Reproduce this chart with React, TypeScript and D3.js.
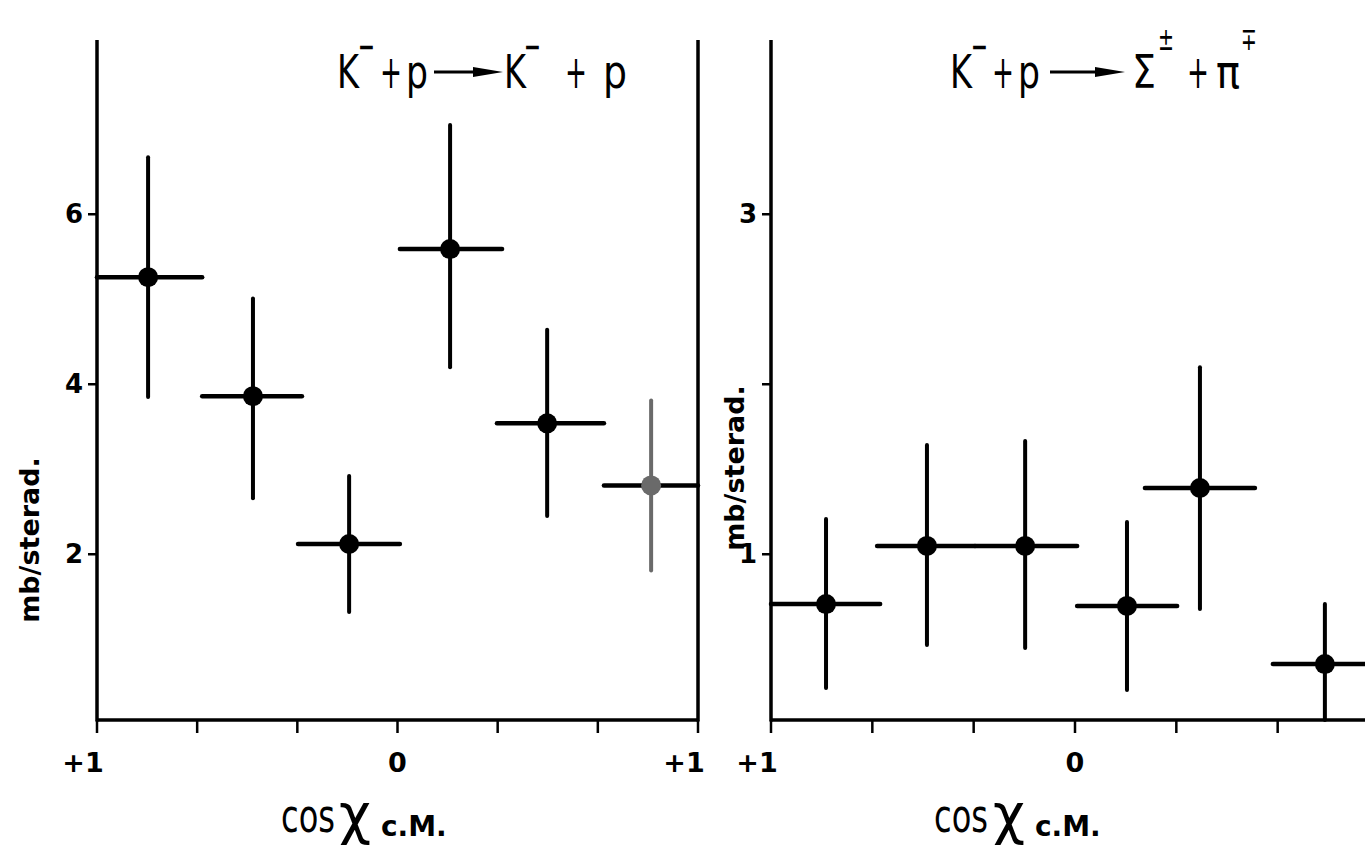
import React from "react";
import * as d3 from "d3";

// ---------- data ----------
// Left panel: K- + p -> K- + p
const leftCenters = [0.83, 0.481, 0.161, -0.175, -0.498, -0.844];
const leftValues = [5.26, 3.86, 2.12, 5.59, 3.54, 2.81];
const leftErrHi = [6.67, 5.01, 2.92, 7.05, 4.64, 3.81];
const leftErrLo = [3.85, 2.66, 1.32, 4.2, 2.45, 1.81];
const leftBinStart = [1, 0.65, 0.331, -0.008, -0.331, -0.687];
const leftBinEnd = [0.65, 0.318, -0.008, -0.348, -0.687, -1];
const leftFaded = [false, false, false, false, false, true];

// Right panel: K- + p -> Sigma± + pi∓
const rightCenters = [0.819, 0.487, 0.164, -0.171, -0.411, -0.822];
const rightValues = [0.707, 1.049, 1.049, 0.696, 1.39, 0.354];
const rightErrHi = [1.207, 1.643, 1.666, 1.19, 2.1, 0.707];
const rightErrLo = [0.213, 0.466, 0.449, 0.201, 0.678, 0.025];
const rightBinStart = [1, 0.651, 0.329, -0.007, -0.23, -0.651];
const rightBinEnd = [0.641, 0.329, -0.007, -0.336, -0.592, -0.954];

const leftYTicks = [2, 4, 6];
const leftYTickLabels = ["2", "4", "6"];
const rightYTicks = [1, 2, 3];
const rightYTickLabels = ["1", "", "3"];
const leftXTicks = [1, 2 / 3, 1 / 3, 0, -1 / 3, -2 / 3, -1];
const leftXTickLabels = ["+1", "", "", "0", "", "", "+1"];
const rightXTicks = [1, 2 / 3, 1 / 3, 0, -1 / 3, -2 / 3];
const rightXTickLabels = ["+1", "", "", "0", "", ""];

const yLabel = "mb/sterad.";

const FONT = "'DejaVu Sans', 'Liberation Sans', sans-serif";

type Panel = {
  x: d3.ScaleLinear<number, number>;
  y: d3.ScaleLinear<number, number>;
  centers: number[];
  values: number[];
  hi: number[];
  lo: number[];
  bs: number[];
  be: number[];
  faded?: boolean[];
  yTicks: number[];
  yTickLabels: string[];
  xTicks: number[];
  xTickLabels: string[];
  xAxisEnd: number;
  rightBorder: boolean;
};

function PanelG({ p }: { p: Panel }) {
  const [y0, y1] = p.y.domain();
  const xL = p.x(1);
  const yB = p.y(y0);
  const yT = p.y(y1);
  return (
    <g>
      {/* axes */}
      <line x1={xL} x2={xL} y1={yT} y2={yB + 1.5} stroke="#000" strokeWidth={3.5} />
      <line x1={xL} x2={p.xAxisEnd} y1={yB} y2={yB} stroke="#000" strokeWidth={3.5} />
      {p.rightBorder && (
        <line x1={p.x(-1)} x2={p.x(-1)} y1={yT} y2={yB + 1.5} stroke="#000" strokeWidth={3.5} />
      )}
      {p.yTicks.map((t, i) => (
        <g key={"yt" + i}>
          <line x1={xL - 9} x2={xL} y1={p.y(t)} y2={p.y(t)} stroke="#000" strokeWidth={2.5} />
          <text
            x={xL - 14}
            y={p.y(t)}
            dy="0.35em"
            textAnchor="end"
            fontFamily={FONT}
            fontWeight="bold"
            fontSize={26}
          >
            {p.yTickLabels[i]}
          </text>
        </g>
      ))}
      {p.xTicks.map((t, i) => (
        <g key={"xt" + i}>
          <line x1={p.x(t)} x2={p.x(t)} y1={yB} y2={yB + 13} stroke="#000" strokeWidth={2.5} />
          {p.xTickLabels[i] && (
            <text
              x={p.x(t) + (p.xTickLabels[i].startsWith("+") ? -14 : 0)}
              y={yB + 52}
              textAnchor="middle"
              fontFamily={FONT}
              fontWeight="bold"
              fontSize={27}
            >
              {p.xTickLabels[i]}
            </text>
          )}
        </g>
      ))}
      {/* data */}
      {p.values.map((v, i) => {
        const col = p.faded && p.faded[i] ? "#6a6a6a" : "#000";
        return (
          <g key={"d" + i}>
            <line
              x1={p.x(p.bs[i])}
              x2={p.x(p.be[i])}
              y1={p.y(v)}
              y2={p.y(v)}
              stroke="#000"
              strokeWidth={4.5}
              strokeLinecap="round"
            />
            <line
              x1={p.x(p.centers[i])}
              x2={p.x(p.centers[i])}
              y1={p.y(p.hi[i])}
              y2={p.y(p.lo[i])}
              stroke={col}
              strokeWidth={4}
              strokeLinecap="round"
            />
            <circle cx={p.x(p.centers[i])} cy={p.y(v)} r={10} fill={col} />
          </g>
        );
      })}
    </g>
  );
}

function Arrow({ x1, x2, y }: { x1: number; x2: number; y: number }) {
  return (
    <g>
      <line x1={x1} x2={x2 - 20} y1={y} y2={y} stroke="#000" strokeWidth={3} />
      <path d={`M${x2 - 30},${y - 5} L${x2},${y} L${x2 - 30},${y + 5} Z`} fill="#000" />
    </g>
  );
}

function T({ x, y, w, size = 46, weight = 400, children }: any) {
  return (
    <text
      x={x}
      y={y}
      fontFamily={FONT}
      fontSize={size}
      fontWeight={weight}
      textLength={w}
      lengthAdjust="spacingAndGlyphs"
      fill="#000"
    >
      {children}
    </text>
  );
}

export default function App() {
  const leftX = d3.scaleLinear().domain([1, -1]).range([97, 698]);
  const leftY = d3.scaleLinear().domain([0.05, 8.05]).range([720, 40]);
  const rightX = d3.scaleLinear().domain([1, -1]).range([771, 1379]);
  const rightY = d3.scaleLinear().domain([0.025, 4.025]).range([720, 40]);

  const left: Panel = {
    x: leftX,
    y: leftY,
    centers: leftCenters,
    values: leftValues,
    hi: leftErrHi,
    lo: leftErrLo,
    bs: leftBinStart,
    be: leftBinEnd,
    faded: leftFaded,
    yTicks: leftYTicks,
    yTickLabels: leftYTickLabels,
    xTicks: leftXTicks,
    xTickLabels: leftXTickLabels,
    xAxisEnd: 698,
    rightBorder: true,
  };
  const right: Panel = {
    x: rightX,
    y: rightY,
    centers: rightCenters,
    values: rightValues,
    hi: rightErrHi,
    lo: rightErrLo,
    bs: rightBinStart,
    be: rightBinEnd,
    yTicks: rightYTicks,
    yTickLabels: rightYTickLabels,
    xTicks: rightXTicks,
    xTickLabels: rightXTickLabels,
    xAxisEnd: 1365,
    rightBorder: false,
  };

  const base = 88;
  return (
    <svg
      width={1365}
      height={853}
      style={{ position: "absolute", left: 0, top: 0, background: "#fff" }}
    >
      <rect width={1365} height={853} fill="#fff" />
      <PanelG p={left} />
      <PanelG p={right} />

      {/* left title: K- + p -> K- + p */}
      <T x={337} y={base} w={22}>K</T>
      <T x={358} y={base - 28} w={17} size={40}>−</T>
      <T x={380} y={base} w={22}>+</T>
      <T x={406} y={base} w={22}>p</T>
      <Arrow x1={434} x2={503} y={72} />
      <T x={504} y={base} w={22}>K</T>
      <T x={524} y={base - 28} w={17} size={40}>−</T>
      <T x={565} y={base} w={22}>+</T>
      <T x={603} y={base} w={24}>p</T>

      {/* right title: K- + p -> Sigma± + pi∓ */}
      <T x={950} y={base} w={22}>K</T>
      <T x={971} y={base - 28} w={17} size={40}>−</T>
      <T x={992} y={base} w={22}>+</T>
      <T x={1018} y={base} w={22}>p</T>
      <Arrow x1={1050} x2={1125} y={72} />
      <T x={1132} y={base} w={24}>Σ</T>
      <T x={1158} y={base - 38} w={16} size={32}>±</T>
      <T x={1187} y={base} w={22}>+</T>
      <T x={1216} y={base} w={24}>π</T>
      <T x={1241} y={base - 38} w={16} size={32}>∓</T>

      {/* x axis labels */}
      {[
        { x: 281, cx: 339 },
        { x: 934, cx: 993 },
      ].map((a, i) => (
        <g key={"xl" + i}>
          <T x={a.x} y={832} w={54} size={46}>cos</T>
          <T x={a.cx} y={833} w={32} size={56}>χ</T>
          <text
            x={a.cx + 42}
            y={836}
            fontFamily={FONT}
            fontSize={28}
            fontWeight="bold"
          >
            c.M.
          </text>
        </g>
      ))}

      {/* y axis labels */}
      <text
        transform="translate(39,540) rotate(-90)"
        textAnchor="middle"
        fontFamily={FONT}
        fontWeight="bold"
        fontSize={27}
      >
        {yLabel}
      </text>
      <text
        transform="translate(744,468) rotate(-90)"
        textAnchor="middle"
        fontFamily={FONT}
        fontWeight="bold"
        fontSize={27}
      >
        {yLabel}
      </text>
    </svg>
  );
}
